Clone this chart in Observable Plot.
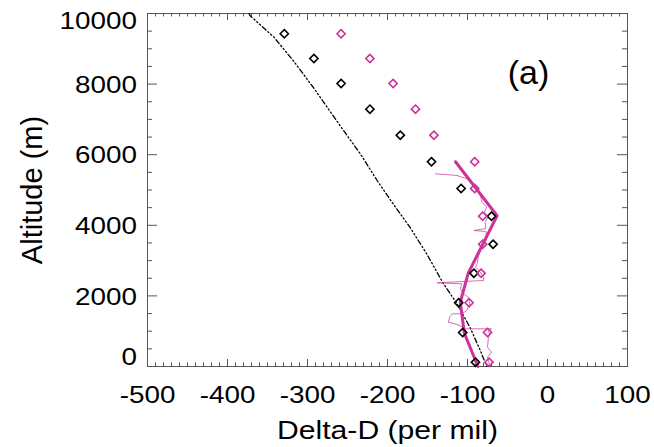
<!DOCTYPE html>
<html><head><meta charset="utf-8">
<script src="https://cdn.jsdelivr.net/npm/d3@7"></script>
<script src="https://cdn.jsdelivr.net/npm/@observablehq/plot@0.6"></script>
<style>body{margin:0;background:#fff} svg{font-family:"Liberation Sans",Arial,sans-serif}</style>
</head><body><div id="chart"></div>
<script>
// Diamond levels (altitude, m)
const levelAlt = [9425, 8726, 8017, 7290, 6553, 5799, 5043, 4258, 3465, 2644, 1805, 963, 122];
const blackDelta = [-329, -292, -258, -222, -184, -145, -108, -70, -68, -92, -111, -106, -90];
const magentaDelta = [-258, -222, -193, -165, -142, -91, -91, -81, -81, -83, -98, -75, -73];

// Thick magenta fitted line
const fitAlt = [5800, 4270, 2650, 1820, 950, 0];
const fitDelta = [-115, -63, -99, -109, -104, -87];

// Thin magenta measured profile
const profAlt = [5459, 5439, 5411, 5318, 5176, 5080, 4893, 4655, 4513, 4363, 4250, 4080, 3910, 3853, 3825, 3663, 3380, 3145, 2910, 2813, 2672, 2530, 2436, 2371, 2343, 2201, 2060, 1963, 1776, 1586, 1493, 1493, 1416, 1255, 1190, 1133, 1068, 1068, 992, 926, 793, 547, 405, 255, 28];
const profDelta = [-140, -128, -113, -101, -92, -88, -84, -82, -76, -79, -74, -78, -77, -92, -77, -76, -82, -86, -88, -90, -84, -80, -80, -138, -107, -109, -105, -99, -97, -101, -107, -119, -122, -124, -113, -107, -105, -70, -74, -72, -74, -75, -70, -75, -72];

// Dash-dot reference curve
const refAlt = [10000, 9944, 9329, 8669, 7913, 6686, 6026, 5269, 4609, 3946, 3193, 2343, 1776, 1113, 453, 0];
const refDelta = [-373, -372, -342, -318, -293, -255, -234, -213, -193, -172, -151, -130, -113, -97, -84, -76];

// Axis ticks
const xMajor = [-500, -400, -300, -200, -100, 0, 100];
const xMinor = d3.range(-500, 101, 10).filter(v => v % 100 !== 0);
const yMajor = [0, 2000, 4000, 6000, 8000, 10000];
const yMinor = d3.range(0, 10001, 500).filter(v => v % 2000 !== 0);
const yLabelsMid = [2000, 4000, 6000, 8000];

const W = 654, H = 447, mL = 147, mR = 27, mT = 13, mB = 81;
const fw = W - mL - mR, fh = H - mT - mB;
const MAG = "#cc3399", AX = "#555";

const pts = (xs, ys) => xs.map((x, i) => ({x, y: ys[i]}));

const chart = Plot.plot({
  width: W, height: H,
  marginLeft: mL, marginRight: mR, marginTop: mT, marginBottom: mB,
  x: {domain: [-500, 100], axis: null},
  y: {domain: [0, 10000], axis: null},
  marks: [
    // ticks (inward)
    Plot.tickX(xMinor, {x: d => d, stroke: AX, insetTop: fh - 3.5}),
    Plot.tickX(xMinor, {x: d => d, stroke: AX, insetBottom: fh - 3.5}),
    Plot.tickX(xMajor, {x: d => d, stroke: AX, insetTop: fh - 7}),
    Plot.tickX(xMajor, {x: d => d, stroke: AX, insetBottom: fh - 7}),
    Plot.tickY(yMinor, {y: d => d, stroke: AX, insetRight: fw - 5}),
    Plot.tickY(yMinor, {y: d => d, stroke: AX, insetLeft: fw - 5}),
    Plot.tickY(yMajor, {y: d => d, stroke: AX, insetRight: fw - 10}),
    Plot.tickY(yMajor, {y: d => d, stroke: AX, insetLeft: fw - 10}),
    Plot.frame({stroke: AX, strokeWidth: 1}),
    // data
    Plot.line(pts(refDelta, refAlt), {x: "x", y: "y", stroke: "black", strokeWidth: 1.3, strokeDasharray: "5,2.5,1.3,2.5,1.3,2.5,1.3,2.5"}),
    Plot.line(pts(profDelta, profAlt), {x: "x", y: "y", stroke: MAG, strokeWidth: 0.9, strokeOpacity: 0.8}),
    Plot.line(pts(fitDelta, fitAlt), {x: "x", y: "y", stroke: MAG, strokeWidth: 3}),
    Plot.dot(pts(blackDelta, levelAlt), {x: "x", y: "y", symbol: "diamond2", r: 3.7, stroke: "black", strokeWidth: 1.6}),
    Plot.dot(pts(magentaDelta, levelAlt), {x: "x", y: "y", symbol: "diamond2", r: 3.7, stroke: MAG, strokeWidth: 1.6}),
    // tick labels
    Plot.text(xMajor, {x: d => d, frameAnchor: "bottom", lineAnchor: "middle", textAnchor: "middle", dy: 29, text: d => String(d), fontSize: 24, fill: "black", ariaDescription: "xtick"}),
    Plot.text(yLabelsMid, {y: d => d, frameAnchor: "left", lineAnchor: "middle", textAnchor: "end", dx: -10.5, dy: 1, text: d => String(d), fontSize: 24, fill: "black", ariaDescription: "ytick"}),
    Plot.text([10000], {y: d => d, frameAnchor: "left", lineAnchor: "middle", textAnchor: "end", dx: -10.5, dy: 7.5, text: d => String(d), fontSize: 24, fill: "black", ariaDescription: "ytick"}),
    Plot.text([0], {y: d => d, frameAnchor: "left", lineAnchor: "middle", textAnchor: "end", dx: -10.5, dy: -8.7, text: d => String(d), fontSize: 24, fill: "black", ariaDescription: "ytick"}),
    // axis titles
    Plot.text(["Delta-D (per mil)"], {frameAnchor: "bottom", lineAnchor: "middle", textAnchor: "middle", dy: 64, text: d => d, fontSize: 26, fill: "black", ariaDescription: "xlabel"}),
    Plot.text(["Altitude (m)"], {frameAnchor: "left", lineAnchor: "middle", textAnchor: "middle", rotate: -90, dx: -115, text: d => d, fontSize: 29, fill: "black", ariaDescription: "ylabel"}),
    Plot.text(["(a)"], {frameAnchor: "top-right", lineAnchor: "middle", textAnchor: "middle", dx: -99, dy: 60, text: d => d, fontSize: 34, fill: "black", ariaDescription: "panel"})
  ]
});
document.getElementById("chart").append(chart);

// horizontal stretch of axis text to match the reference's wide lettering
const S = 1.16;
chart.querySelectorAll("text").forEach(t => {
  const g = t.closest("[aria-description]");
  const lab = g ? g.getAttribute("aria-description") : "";
  if (!["xtick", "ytick", "xlabel"].includes(lab)) return;
  const bb = t.getBBox();
  const ax = lab === "ytick" ? bb.x + bb.width : bb.x + bb.width / 2;
  const tr = t.getAttribute("transform") || "";
  t.setAttribute("transform", `${tr} translate(${ax},0) scale(${S},1) translate(${-ax},0)`);
});
</script>
</body></html>
